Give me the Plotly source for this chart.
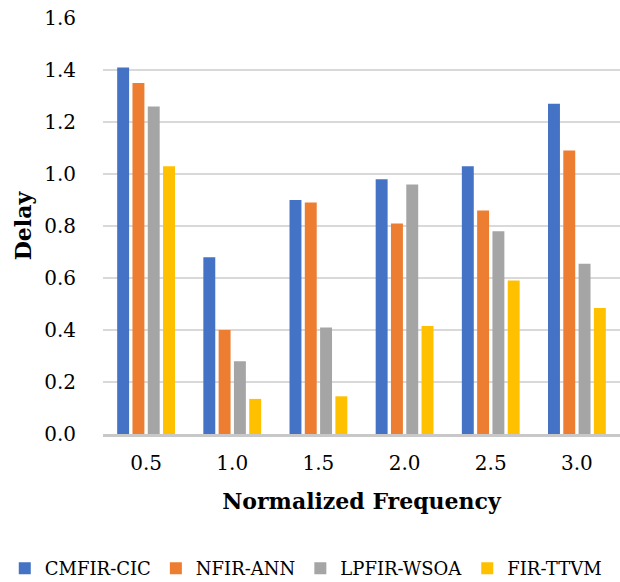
import plotly.graph_objects as go

categories = ["0.5", "1.0", "1.5", "2.0", "2.5", "3.0"]
cmfir_cic = [1.41, 0.68, 0.90, 0.98, 1.03, 1.27]
nfir_ann = [1.35, 0.40, 0.89, 0.81, 0.86, 1.09]
lpfir_wsoa = [1.26, 0.28, 0.41, 0.96, 0.78, 0.655]
fir_ttvm = [1.03, 0.135, 0.145, 0.415, 0.59, 0.485]

series = [
    ("CMFIR-CIC", cmfir_cic, "#4472C4"),
    ("NFIR-ANN", nfir_ann, "#ED7D31"),
    ("LPFIR-WSOA", lpfir_wsoa, "#A5A5A5"),
    ("FIR-TTVM", fir_ttvm, "#FFC000"),
]

fig = go.Figure()
for name, vals, color in series:
    fig.add_trace(go.Bar(x=categories, y=vals, name=name, marker=dict(color=color, line=dict(width=0))))

font_family = "DejaVu Serif"
fig.update_layout(
    width=620, height=582,
    margin=dict(l=103, r=0, t=18, b=148, autoexpand=False),
    paper_bgcolor="white", plot_bgcolor="white",
    barmode="group", bargap=0.29, bargroupgap=0.22,
    font=dict(family=font_family, size=20, color="black"),
    legend=dict(orientation="h", x=-0.19, xanchor="left", y=-0.279, yanchor="top",
                font=dict(size=18, family=font_family), itemwidth=30, tracegroupgap=0),
    xaxis=dict(
        title=dict(text="<b>Normalized Frequency</b>", font=dict(size=22, family=font_family), standoff=20),
        showline=True, linecolor="#C8C8C8", linewidth=2.5, ticks="", ticklabelstandoff=9,
        tickfont=dict(family=font_family, size=20),
    ),
    yaxis=dict(
        title=dict(text="<b>Delay</b>", font=dict(size=22, family=font_family), standoff=6),
        range=[0, 1.6], dtick=0.2, tickformat=".1f",
        showgrid=True, gridcolor="#D9D9D9", gridwidth=1.5,
        zeroline=False, showline=False, ticks="", ticklabelstandoff=26,
        tickfont=dict(family=font_family, size=20),
    ),
)

fig.write_html("out.html")
